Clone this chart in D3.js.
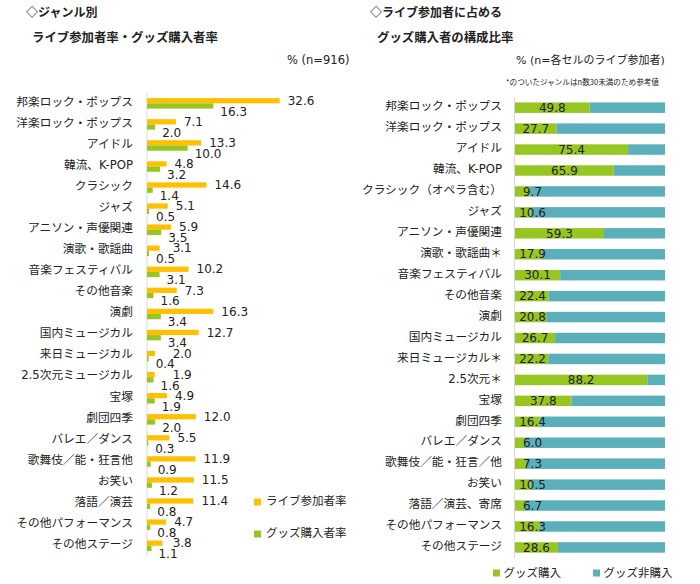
<!DOCTYPE html>
<html>
<head>
<meta charset="utf-8">
<script src="https://cdn.jsdelivr.net/npm/d3@7"></script>
<style>
  html, body { margin: 0; padding: 0; background: #fff; }
  svg { display: block; font-family: "DejaVu Sans", "Noto Sans CJK JP", sans-serif; }
</style>
</head>
<body>
<svg id="chart" width="700" height="584"></svg>
<script>
// ---------- data ----------
const leftCategories = ["邦楽ロック・ポップス","洋楽ロック・ポップス","アイドル","韓流、K-POP","クラシック","ジャズ","アニソン・声優関連","演歌・歌謡曲","音楽フェスティバル","その他音楽","演劇","国内ミュージカル","来日ミュージカル","2.5次元ミュージカル","宝塚","劇団四季","バレエ／ダンス","歌舞伎／能・狂言他","お笑い","落語／演芸","その他パフォーマンス","その他ステージ"];
const liveRate  = [32.6, 7.1, 13.3, 4.8, 14.6, 5.1, 5.9, 3.1, 10.2, 7.3, 16.3, 12.7, 2.0, 1.9, 4.9, 12.0, 5.5, 11.9, 11.5, 11.4, 4.7, 3.8];
const goodsRate = [16.3, 2.0, 10.0, 3.2, 1.4, 0.5, 3.5, 0.5, 3.1, 1.6, 3.4, 3.4, 0.4, 1.6, 1.9, 2.0, 0.3, 0.9, 1.2, 0.8, 0.8, 1.1];

const rightCategories = ["邦楽ロック・ポップス","洋楽ロック・ポップス","アイドル","韓流、K-POP","クラシック（オペラ含む）","ジャズ","アニソン・声優関連","演歌・歌謡曲＊","音楽フェスティバル","その他音楽","演劇","国内ミュージカル","来日ミュージカル＊","2.5次元＊","宝塚","劇団四季","バレエ／ダンス","歌舞伎／能・狂言／他","お笑い","落語／演芸、寄席","その他パフォーマンス","その他ステージ"];
const goodsShare = [49.8, 27.7, 75.4, 65.9, 9.7, 10.6, 59.3, 17.9, 30.1, 22.4, 20.8, 26.7, 22.2, 88.2, 37.8, 16.4, 6.0, 7.3, 10.5, 6.7, 16.3, 28.6];

const leftLegend = ["ライブ参加者率", "グッズ購入者率"];
const rightLegend = ["グッズ購入", "グッズ非購入"];

const ORANGE = "#FFC000", GREEN = "#97C623", TEAL = "#5AAFBA", AXIS = "#D9D9D9", TXT = "#222";

const svg = d3.select("#chart");

// ---------- titles ----------
function text(x, y, s, opts = {}) {
  return svg.append("text").attr("x", x).attr("y", y).attr("dy", "0.35em")
    .attr("font-size", opts.size || 12).attr("font-weight", opts.weight || "normal")
    .attr("text-anchor", opts.anchor || "start").attr("fill", opts.fill || TXT)
    .attr("font-family", opts.family || null).text(s);
}
const JP = "'Noto Sans CJK JP', sans-serif";
text(26, 13, "◇ジャンル別", {weight: "bold", size: 12, family: JP});
text(32, 38, "ライブ参加者率・グッズ購入者率", {weight: "bold", size: 12.4, family: JP});
text(287, 60, "% (n=916)", {size: 11.5});
text(370, 13, "◇ライブ参加者に占める", {weight: "bold", size: 12, family: JP});
text(377, 38, "グッズ購入者の構成比率", {weight: "bold", size: 12.4, family: JP});
text(516, 60, "% (n=各セルのライブ参加者)", {size: 11});
text(506, 82, "*のついたジャンルはn数30未満のため参考値", {size: 7.6, family: JP});

// ---------- left chart ----------
const yL = d3.scaleBand().domain(leftCategories).range([92.8, 556.3]).paddingInner(0.5).paddingOuter(0.25);
const xL = d3.scaleLinear().domain([0, 35]).range([147, 289.5]);
const half = yL.bandwidth() / 2;

const gL = svg.append("g");
gL.append("line").attr("x1", xL(0)).attr("x2", xL(0)).attr("y1", yL.range()[0]).attr("y2", yL.range()[1])
  .attr("stroke", AXIS).attr("stroke-width", 1);

const leftData = leftCategories.map((c, i) => ({c, live: liveRate[i], goods: goodsRate[i]}));

gL.selectAll("rect.live").data(leftData).join("rect").attr("class", "live")
  .attr("x", xL(0)).attr("y", d => yL(d.c)).attr("width", d => xL(d.live) - xL(0)).attr("height", half)
  .attr("fill", ORANGE);
gL.selectAll("rect.goods").data(leftData).join("rect").attr("class", "goods")
  .attr("x", xL(0)).attr("y", d => yL(d.c) + half).attr("width", d => xL(d.goods) - xL(0)).attr("height", half)
  .attr("fill", GREEN);

gL.selectAll("text.lv").data(leftData).join("text").attr("class", "lv")
  .attr("x", d => Math.max(xL(d.live) + 8, xL(6.3))).attr("y", d => yL(d.c) + half / 2).attr("dy", "0.35em")
  .attr("font-size", 12).attr("fill", TXT).text(d => d.live.toFixed(1));
gL.selectAll("text.gv").data(leftData).join("text").attr("class", "gv")
  .attr("x", d => xL(d.goods) + 7).attr("y", d => yL(d.c) + half * 1.5 + 5.5).attr("dy", "0.35em")
  .attr("font-size", 12).attr("fill", TXT).text(d => d.goods.toFixed(1));

// category labels (left)
const axL = d3.axisLeft(yL).tickSize(0).tickPadding(0);
const axLg = gL.append("g").attr("transform", `translate(133,-1.5)`).call(axL);
axLg.select(".domain").remove();
axLg.selectAll("text").attr("font-size", 11.7).attr("fill", TXT).attr("font-family", "'DejaVu Sans','Noto Sans CJK JP',sans-serif");

// left legend
const legL = svg.append("g");
[ORANGE, GREEN].forEach((col, i) => {
  const y = 502 + i * 32;
  legL.append("rect").attr("x", 254).attr("y", y - 3.5).attr("width", 7).attr("height", 7).attr("fill", col);
  text(266, y - 1.5, leftLegend[i], {size: 11.5});
});

// ---------- right chart ----------
const yR = d3.scaleBand().domain(rightCategories).range([97.2, 557.9]).paddingInner(0.5).paddingOuter(0.25);
const xR = d3.scaleLinear().domain([0, 100]).range([515, 665]);
const gR = svg.append("g");

gR.append("line").attr("x1", xR(0) - 0.5).attr("x2", xR(0) - 0.5).attr("y1", yR.range()[0]).attr("y2", yR.range()[1])
  .attr("stroke", AXIS).attr("stroke-width", 1);

const rightData = rightCategories.map((c, i) => ({c, buy: goodsShare[i], nobuy: +(100 - goodsShare[i]).toFixed(1)}));

gR.selectAll("rect.buy").data(rightData).join("rect").attr("class", "buy")
  .attr("x", xR(0)).attr("y", d => yR(d.c)).attr("width", d => xR(d.buy) - xR(0)).attr("height", yR.bandwidth())
  .attr("fill", GREEN);
gR.selectAll("rect.nobuy").data(rightData).join("rect").attr("class", "nobuy")
  .attr("x", d => xR(d.buy)).attr("y", d => yR(d.c)).attr("width", d => xR(100) - xR(d.buy)).attr("height", yR.bandwidth())
  .attr("fill", TEAL);

gR.selectAll("text.bv").data(rightData).join("text").attr("class", "bv")
  .attr("x", d => Math.max((xR(0) + xR(d.buy)) / 2, xR(0) + 17.5)).attr("y", d => yR(d.c) + yR.bandwidth() / 2)
  .attr("dy", "0.35em").attr("text-anchor", "middle").attr("font-size", 12).attr("fill", TXT)
  .text(d => d.buy.toFixed(1));

const axR = d3.axisLeft(yR).tickSize(0).tickPadding(0);
const axRg = gR.append("g").attr("transform", `translate(502,-1)`).call(axR);
axRg.select(".domain").remove();
axRg.selectAll("text").attr("font-size", 11.7).attr("fill", TXT).attr("font-family", "'DejaVu Sans','Noto Sans CJK JP',sans-serif");

// right legend
const legR = svg.append("g");
[GREEN, TEAL].forEach((col, i) => {
  const x = 493 + i * 100;
  legR.append("rect").attr("x", x).attr("y", 569.5).attr("width", 7).attr("height", 7).attr("fill", col);
  text(x + 10.5, 572.5, rightLegend[i], {size: 11.5});
});
</script>
</body>
</html>
